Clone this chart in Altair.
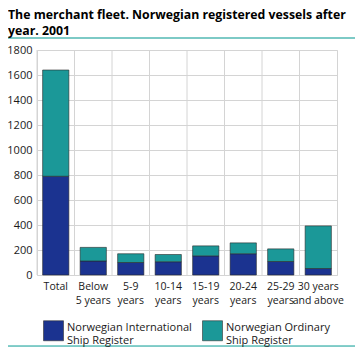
import altair as alt
import pandas as pd

categories = ["Total", "Below 5 years", "5-9 years", "10-14 years", "15-19 years",
              "20-24 years", "25-29 years", "30 years and above"]
international = [790, 112, 100, 106, 153, 170, 108, 52]
ordinary = [850, 109, 70, 58, 80, 87, 101, 341]
series = ["Norwegian International Ship Register", "Norwegian Ordinary Ship Register"]
colors = ["#1b3390", "#1b9898"]
y_ticks = [0, 200, 400, 600, 800, 1000, 1200, 1400, 1600, 1800]

rows = []
for c, a, b in zip(categories, international, ordinary):
    rows.append({"cat": c, "series": series[0], "idx": 0, "value": a})
    rows.append({"cat": c, "series": series[1], "idx": 1, "value": b})
df = pd.DataFrame(rows)
cat_df = pd.DataFrame({"cat": categories})

FONT = "Open Sans"

x_label_expr = (
    "datum.value == 'Total' ? 'Total' : "
    "(indexof(datum.value, '30 ') == 0 ? ['30 years', 'and above'] : "
    "[substring(datum.value, 0, indexof(datum.value, ' ')), "
    "substring(datum.value, indexof(datum.value, ' ') + 1)])"
)
legend_label_expr = (
    "[substring(datum.label, 0, indexof(datum.label, ' Ship')), 'Ship Register']"
)

x_scale = alt.Scale(domain=categories, paddingInner=0.3, paddingOuter=0.15)

vgrid = alt.Chart(cat_df).mark_rule(color="#d4d4d4", strokeWidth=1, xOffset=-5.625).encode(
    x=alt.X("cat:N", scale=x_scale, bandPosition=0, title=None),
)

bars = alt.Chart(df).mark_bar(stroke="#2a2a2a", strokeWidth=0.6).encode(
    x=alt.X("cat:N", title=None, scale=x_scale,
            axis=alt.Axis(labelAngle=0, labelExpr=x_label_expr, grid=False,
                          ticks=False, tickSize=0, domain=False, labelAlign="center",
                          labelFlush=False, labelBound=False,
                          labelPadding=6, labelBaseline="top", labelLineHeight=14,
                          labelFont=FONT, labelFontSize=10.5, labelColor="#1a1a1a")),
    y=alt.Y("value:Q", stack="zero", title=None,
            scale=alt.Scale(domain=[0, 1800], nice=False),
            axis=alt.Axis(values=y_ticks, format="d", grid=True, ticks=False, tickSize=0,
                          domain=False, labelPadding=5, labelFont=FONT,
                          labelFontSize=11, labelColor="#1a1a1a",
                          gridColor="#d4d4d4", gridWidth=1)),
    color=alt.Color("series:N", scale=alt.Scale(domain=series, range=colors),
                    legend=alt.Legend(title=None, orient="none", legendX=6, legendY=270,
                                      direction="horizontal", columns=2,
                                      symbolType="square", symbolSize=400,
                                      symbolStrokeColor="#333333", symbolStrokeWidth=0.6,
                                      labelExpr=legend_label_expr, labelFont=FONT,
                                      labelBaseline="alphabetic",
                                      labelFontSize=11, labelColor="#1a1a1a",
                                      labelLimit=300, labelOffset=3, columnPadding=9)),
    order=alt.Order("idx:Q", sort="ascending"),
)

top_line = alt.Chart(cat_df).mark_rule(color="#7dcac6", strokeWidth=2).encode(
    x=alt.value(-29), x2=alt.value(318), y=alt.value(-12))
bottom_line = alt.Chart(cat_df).mark_rule(color="#7dcac6", strokeWidth=1.5).encode(
    x=alt.value(-29), x2=alt.value(318), y=alt.value(296.5))

chart = alt.layer(vgrid, bars, top_line, bottom_line).properties(
    width=300, height=225,
    autosize=alt.AutoSizeParams(type="none"),
    padding={"left": 29, "top": 42, "right": 18, "bottom": 72},
    title=alt.TitleParams(
        text=["The merchant fleet. Norwegian registered vessels after", "year. 2001"],
        anchor="start", frame="group", dx=-29, offset=0,
        font=FONT, fontSize=12.3, fontWeight="bold", color="#000000", lineHeight=16),
).configure_view(stroke="#d4d4d4", strokeWidth=1)

chart.save("out.html", embed_options={"renderer": "svg", "actions": False})
